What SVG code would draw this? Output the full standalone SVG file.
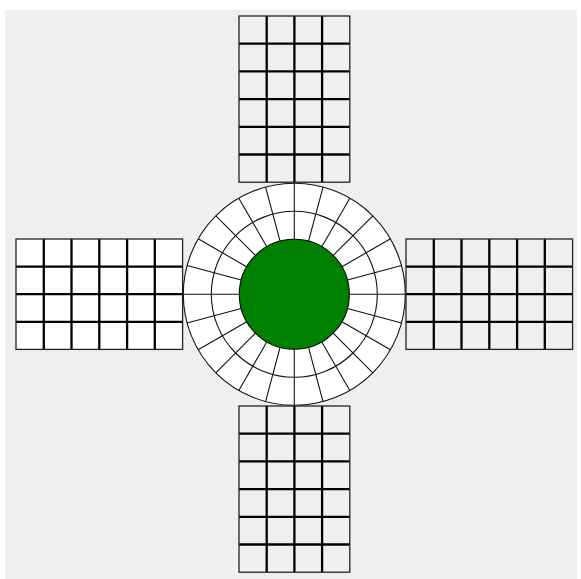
<svg xmlns="http://www.w3.org/2000/svg" xmlns:xlink="http://www.w3.org/1999/xlink" width="581" height="579" viewBox="0 0 581 579">
  <style>
    .border { fill: none; stroke: #222; stroke-width: 1.3; }
    .inner { stroke: #000; stroke-width: 2.3; }
    .ring { fill: #fff; stroke: #111; stroke-width: 1.1; }
    .spoke { stroke: #111; stroke-width: 1.1; }
    .hubfill { fill: #008000; stroke: #000; stroke-width: 1.1; }
  </style>
  <defs>
    <line id="spoke" class="spoke" x1="294.3" y1="183.3" x2="294.3" y2="239.3"/>
  </defs>
  <rect id="background" x="5" y="10" width="572" height="569" fill="#efefef"/>

  <g id="grid-top">
    <line class="inner" x1="266.7" y1="16" x2="266.7" y2="182.2"/>
    <line class="inner" x1="294.4" y1="16" x2="294.4" y2="182.2"/>
    <line class="inner" x1="322.1" y1="16" x2="322.1" y2="182.2"/>
    <line class="inner" x1="239" y1="43.7" x2="349.8" y2="43.7"/>
    <line class="inner" x1="239" y1="71.4" x2="349.8" y2="71.4"/>
    <line class="inner" x1="239" y1="99.1" x2="349.8" y2="99.1"/>
    <line class="inner" x1="239" y1="126.8" x2="349.8" y2="126.8"/>
    <line class="inner" x1="239" y1="154.5" x2="349.8" y2="154.5"/>
    <rect class="border" x="239" y="16" width="110.8" height="166.2"/>
  </g>

  <g id="grid-bottom">
    <line class="inner" x1="266.7" y1="406" x2="266.7" y2="572.2"/>
    <line class="inner" x1="294.4" y1="406" x2="294.4" y2="572.2"/>
    <line class="inner" x1="322.1" y1="406" x2="322.1" y2="572.2"/>
    <line class="inner" x1="239" y1="433.7" x2="349.8" y2="433.7"/>
    <line class="inner" x1="239" y1="461.4" x2="349.8" y2="461.4"/>
    <line class="inner" x1="239" y1="489.1" x2="349.8" y2="489.1"/>
    <line class="inner" x1="239" y1="516.8" x2="349.8" y2="516.8"/>
    <line class="inner" x1="239" y1="544.5" x2="349.8" y2="544.5"/>
    <rect class="border" x="239" y="406" width="110.8" height="166.2"/>
  </g>

  <g id="grid-left">
    <rect x="16" y="239" width="166.6" height="110.4" fill="#fff"/>
    <line class="inner" x1="43.8" y1="239" x2="43.8" y2="349.4"/>
    <line class="inner" x1="71.5" y1="239" x2="71.5" y2="349.4"/>
    <line class="inner" x1="99.3" y1="239" x2="99.3" y2="349.4"/>
    <line class="inner" x1="127.1" y1="239" x2="127.1" y2="349.4"/>
    <line class="inner" x1="154.8" y1="239" x2="154.8" y2="349.4"/>
    <line class="inner" x1="16" y1="266.6" x2="182.6" y2="266.6"/>
    <line class="inner" x1="16" y1="294.2" x2="182.6" y2="294.2"/>
    <line class="inner" x1="16" y1="321.8" x2="182.6" y2="321.8"/>
    <rect class="border" x="16" y="239" width="166.6" height="110.4"/>
  </g>

  <g id="grid-right">
    <line class="inner" x1="433.8" y1="239" x2="433.8" y2="349.4"/>
    <line class="inner" x1="461.5" y1="239" x2="461.5" y2="349.4"/>
    <line class="inner" x1="489.3" y1="239" x2="489.3" y2="349.4"/>
    <line class="inner" x1="517.1" y1="239" x2="517.1" y2="349.4"/>
    <line class="inner" x1="544.8" y1="239" x2="544.8" y2="349.4"/>
    <line class="inner" x1="406" y1="266.6" x2="572.6" y2="266.6"/>
    <line class="inner" x1="406" y1="294.2" x2="572.6" y2="294.2"/>
    <line class="inner" x1="406" y1="321.8" x2="572.6" y2="321.8"/>
    <rect class="border" x="406" y="239" width="166.6" height="110.4"/>
  </g>

  <g id="hub">
    <circle class="ring" cx="294.3" cy="294.3" r="111"/>
    <circle class="ring" cx="294.3" cy="294.3" r="83"/>
    <use xlink:href="#spoke" style="stroke-width:1.6"/>
    <use xlink:href="#spoke" transform="rotate(15 294.3 294.3)"/>
    <use xlink:href="#spoke" transform="rotate(30 294.3 294.3)"/>
    <use xlink:href="#spoke" transform="rotate(45 294.3 294.3)"/>
    <use xlink:href="#spoke" transform="rotate(60 294.3 294.3)"/>
    <use xlink:href="#spoke" transform="rotate(75 294.3 294.3)"/>
    <use xlink:href="#spoke" transform="rotate(90 294.3 294.3)"/>
    <use xlink:href="#spoke" transform="rotate(105 294.3 294.3)"/>
    <use xlink:href="#spoke" transform="rotate(120 294.3 294.3)"/>
    <use xlink:href="#spoke" transform="rotate(135 294.3 294.3)"/>
    <use xlink:href="#spoke" transform="rotate(150 294.3 294.3)"/>
    <use xlink:href="#spoke" transform="rotate(165 294.3 294.3)"/>
    <use xlink:href="#spoke" transform="rotate(180 294.3 294.3)"/>
    <use xlink:href="#spoke" transform="rotate(195 294.3 294.3)"/>
    <use xlink:href="#spoke" transform="rotate(210 294.3 294.3)"/>
    <use xlink:href="#spoke" transform="rotate(225 294.3 294.3)"/>
    <use xlink:href="#spoke" transform="rotate(240 294.3 294.3)"/>
    <use xlink:href="#spoke" transform="rotate(255 294.3 294.3)"/>
    <use xlink:href="#spoke" transform="rotate(270 294.3 294.3)"/>
    <use xlink:href="#spoke" transform="rotate(285 294.3 294.3)"/>
    <use xlink:href="#spoke" transform="rotate(300 294.3 294.3)"/>
    <use xlink:href="#spoke" transform="rotate(315 294.3 294.3)"/>
    <use xlink:href="#spoke" transform="rotate(330 294.3 294.3)"/>
    <use xlink:href="#spoke" transform="rotate(345 294.3 294.3)"/>
    <circle class="hubfill" cx="294.3" cy="294.3" r="55"/>
  </g>
</svg>
